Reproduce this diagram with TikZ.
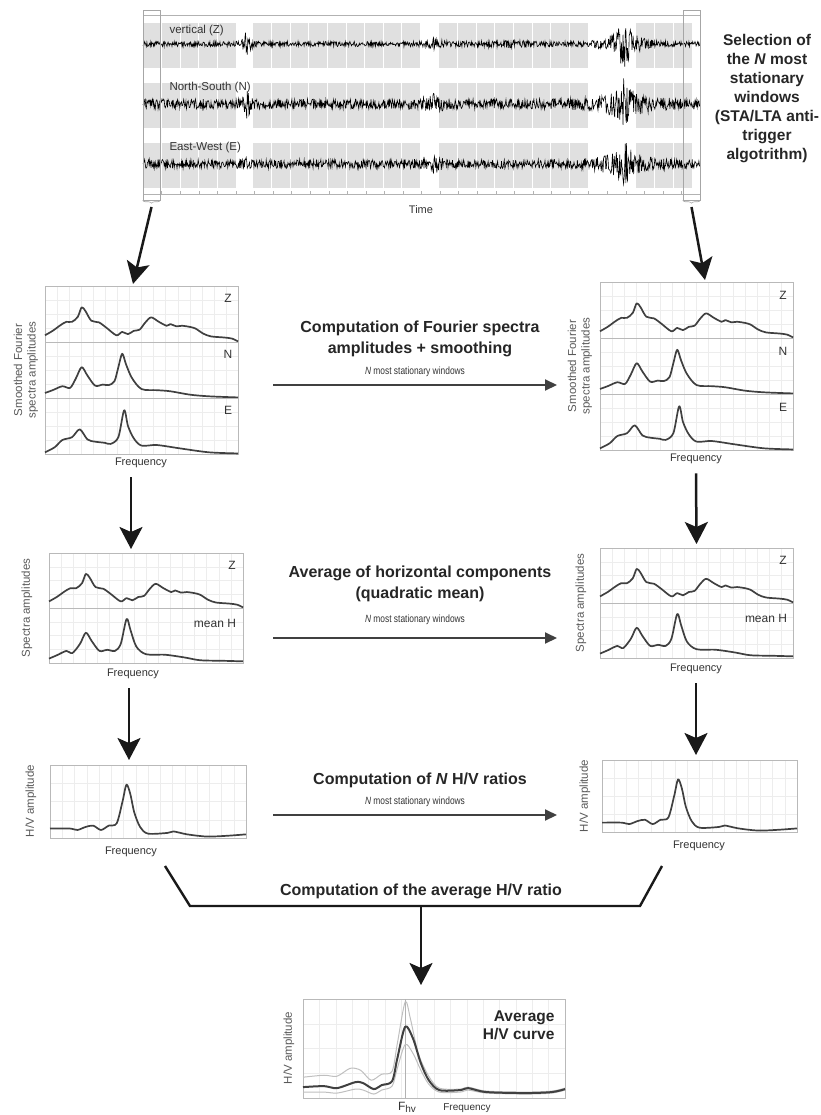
\documentclass[tikz,border=0pt]{standalone}
\usepackage{fontspec}
\setmainfont{Liberation Sans}
\newfontfamily\narrowfont[FakeStretch=0.8]{Liberation Sans}
\usetikzlibrary{arrows.meta,decorations.pathreplacing}

\tikzset{
  head/.style={font=\fontsize{16}{21}\selectfont\bfseries, align=center, text=black!85},
  note/.style={font=\narrowfont\fontsize{10.5}{12}\selectfont, text=black!80},
  lab/.style={font=\fontsize{11}{13}\selectfont, text=black!80},
  seislab/.style={font=\fontsize{11.5}{13}\selectfont, text=black!80},
  comp/.style={font=\fontsize{12}{14}\selectfont, text=black!80},
  axlab/.style={font=\fontsize{11.5}{13.5}\selectfont, rotate=90, align=center, text=black!65},
  panel/.style={draw=gray!60, line width=0.8pt, inner sep=0pt, outer sep=0pt},
  seisbox/.style={draw=gray!60, line width=0.6pt, inner sep=0pt},
  winbox/.style={draw=gray!70, line width=0.6pt, inner sep=0pt},
  winfill/.style={fill=gray!24},
  winsep/.style={white, line width=0.7pt},
  trace/.style={black, line width=0.6pt},
  brace/.style={gray!70, line width=0.6pt, decorate, decoration={brace, mirror, amplitude=3pt}},
  gridline/.style={gray!14, line width=0.3pt},
  rowline/.style={gray!55, line width=0.6pt},
  curve/.style={black!75, line width=1.7pt, line join=round},
  bigarrow/.style={-{Stealth[length=22pt, width=23pt, inset=5pt]}, line width=2.5pt, black!90},
  flowarrow/.style={-{Triangle[length=12pt, width=11pt]}, line width=2pt, black!75},
  link/.style={line width=2.4pt, black!90, line join=miter},
}

% one row of a spectrum panel: x, y of lower left corner, width, height, curve
\newcommand{\specrow}[5]{%
  \begin{scope}[shift={(#1,#2)}, xscale=#3, yscale=-#4]
    \foreach \g in {0.0625,0.125,...,0.95} \draw[gridline] (\g,0) -- (\g,1);
    \foreach \g in {0.25,0.5,0.75} \draw[gridline] (0,\g) -- (1,\g);
    \draw[rowline] (0,0) rectangle (1,1);
    #5
  \end{scope}}

\def\curveZ{\draw[curve] plot[smooth] coordinates {(0,0.12) (0.04,0.2) (0.08,0.3) (0.11,0.36) (0.14,0.36) (0.17,0.45) (0.19,0.62) (0.21,0.55) (0.24,0.38) (0.28,0.35) (0.32,0.25) (0.37,0.12) (0.4,0.18) (0.43,0.14) (0.46,0.2) (0.49,0.22) (0.52,0.35) (0.55,0.44) (0.59,0.36) (0.63,0.29) (0.65,0.32) (0.68,0.28) (0.71,0.29) (0.75,0.27) (0.78,0.24) (0.82,0.15) (0.86,0.1) (0.93,0.08) (0.97,0.06) (1,0.01)};}
\def\curveN{\draw[curve] plot[smooth] coordinates {(0,0.09) (0.04,0.14) (0.09,0.21) (0.13,0.18) (0.16,0.35) (0.19,0.55) (0.22,0.4) (0.26,0.22) (0.3,0.24) (0.33,0.23) (0.36,0.3) (0.38,0.55) (0.4,0.79) (0.42,0.6) (0.45,0.36) (0.5,0.16) (0.58,0.14) (0.65,0.12) (0.75,0.06) (0.85,0.03) (1,0.01)};}
\def\curveE{\draw[curve] plot[smooth] coordinates {(0,0.03) (0.05,0.12) (0.09,0.25) (0.14,0.3) (0.18,0.44) (0.22,0.26) (0.26,0.22) (0.31,0.2) (0.34,0.18) (0.38,0.3) (0.41,0.78) (0.43,0.5) (0.46,0.28) (0.5,0.15) (0.58,0.16) (0.7,0.1) (0.85,0.03) (1,0.01)};}
\def\curveH{\draw[curve] plot[smooth] coordinates {(0,0.08) (0.04,0.14) (0.09,0.22) (0.12,0.18) (0.16,0.35) (0.19,0.55) (0.22,0.4) (0.26,0.22) (0.3,0.24) (0.34,0.22) (0.37,0.35) (0.4,0.8) (0.42,0.6) (0.45,0.3) (0.5,0.16) (0.6,0.15) (0.7,0.1) (0.78,0.05) (0.9,0.04) (1,0.03)};}
\def\curveHV{\draw[curve] plot[smooth] coordinates {(0,0.13) (0.1,0.13) (0.14,0.11) (0.18,0.15) (0.22,0.17) (0.26,0.11) (0.3,0.17) (0.34,0.2) (0.37,0.5) (0.39,0.73) (0.41,0.6) (0.43,0.35) (0.46,0.15) (0.5,0.06) (0.6,0.07) (0.63,0.09) (0.7,0.05) (0.8,0.02) (0.9,0.03) (1,0.05)};}
\def\curveAvg{%
  \draw[gray!60, line width=0.8pt] (0.39,0) -- (0.39,1);
  \draw[gray!50, line width=1pt] plot[smooth] coordinates {(0,0.21) (0.08,0.23) (0.13,0.22) (0.18,0.3) (0.22,0.28) (0.26,0.18) (0.3,0.24) (0.34,0.27) (0.36,0.55) (0.39,0.97) (0.41,0.8) (0.44,0.45) (0.48,0.22) (0.52,0.1) (0.6,0.09) (0.63,0.11) (0.7,0.07) (0.85,0.06) (0.95,0.07) (1,0.1)};
  \draw[gray!50, line width=1pt] plot[smooth] coordinates {(0,0.06) (0.08,0.06) (0.13,0.05) (0.2,0.09) (0.23,0.08) (0.27,0.04) (0.3,0.08) (0.34,0.12) (0.36,0.3) (0.39,0.54) (0.42,0.45) (0.45,0.28) (0.48,0.14) (0.52,0.06) (0.6,0.06) (0.63,0.08) (0.7,0.05) (0.85,0.04) (0.95,0.05) (1,0.08)};
  \draw[curve, line width=2pt] plot[smooth] coordinates {(0,0.11) (0.08,0.12) (0.13,0.1) (0.2,0.16) (0.23,0.15) (0.27,0.09) (0.3,0.13) (0.34,0.17) (0.36,0.4) (0.39,0.72) (0.42,0.6) (0.45,0.35) (0.48,0.18) (0.52,0.08) (0.6,0.08) (0.63,0.1) (0.7,0.06) (0.85,0.05) (0.95,0.06) (1,0.09)};}

\begin{document}
\begin{tikzpicture}[x=1pt, y=-1pt,
  declare function={ev(\xx,\cc,\ww)=exp(-min(abs(\xx-\cc)/\ww,9));
    envZ(\xx)=2.6+17*ev(\xx,247,2.5)+4*ev(\xx,434,7)+2*ev(\xx,510,20)+24*ev(\xx,624,10);
    envN(\xx)=5+14*ev(\xx,247,2.5)+6*ev(\xx,434,7)+14*ev(\xx,624,18)+10*ev(\xx,624,2);
    envE(\xx)=4.5+8*ev(\xx,247,3)+6*ev(\xx,434,7)+16*ev(\xx,624,15)+12*ev(\xx,624,2);}]
\useasboundingbox (0,0) rectangle (820,1115);

% recording with the selected windows
\node[seisbox, minimum width=557pt, minimum height=179pt] (seis) at (421.5,104.5) {};
\foreach \yy in {23,83,143}{
  \foreach \a/\b in {143/236,253/420,439/588,636/692}
    \fill[winfill] (\a,\yy) rectangle (\b,\yy+45);
  \foreach \a/\n in {143/4,253/8,439/7,636/2}
    \foreach \k in {1,...,\n}
      \draw[winsep] (\a+\k*18.6,\yy) -- ++(0,45);
}
\foreach \t in {0,...,29} \draw[gray!60] (143+\t*18.57,194) -- ++(0,-3);
\pgfmathsetseed{12}
\draw[trace] plot[domain=143:700, samples=1000] (\x,{44+envZ(\x)*rand});
\draw[trace] plot[domain=143:700, samples=1000] (\x,{104+envN(\x)*rand});
\draw[trace] plot[domain=143:700, samples=1000] (\x,{164+envE(\x)*rand});
\node[seislab, anchor=west] (labZ) at (166,31) {vertical (Z)};
\node[seislab, anchor=west] (labN) at (166,88) {North-South (N)};
\node[seislab, anchor=west] (labE) at (166,148) {East-West (E)};
\node[lab] (time) at (421,210) {Time};
\node[winbox, minimum width=17pt, minimum height=190pt] (winL) at (151.5,105) {};
\node[winbox, minimum width=17pt, minimum height=190pt] (winR) at (691.5,105) {};
\draw[brace] (winL.south west) -- (winL.south east);
\draw[brace] (winR.south west) -- (winR.south east);
\coordinate (bL) at (151.5,207);
\coordinate (bR) at (691.5,207);
\node[head, font=\fontsize{15.5}{19}\selectfont\bfseries] (sel) at (767,99)
  {Selection of\\the \textit{N} most\\stationary\\windows\\(STA/LTA anti-\\trigger\\algotrithm)};

% Fourier spectra
\node[panel, minimum width=193pt, minimum height=168pt] (fsL) at (141.5,370) {};
\specrow{45}{342}{193}{56}{\curveZ}
\specrow{45}{398}{193}{56}{\curveN}
\specrow{45}{454}{193}{56}{\curveE}
\node[comp] (zL1) at (228,298) {Z};
\node[comp] (nL1) at (228,354) {N};
\node[comp] (eL1) at (228,410) {E};
\node[lab] (fqL1) at (141,463) {Frequency};
\node[axlab] (ylL1) at (26,370) {Smoothed Fourier\\spectra amplitudes};

\node[panel, minimum width=193pt, minimum height=168pt] (fsR) at (696.5,366) {};
\specrow{600}{338}{193}{56}{\curveZ}
\specrow{600}{394}{193}{56}{\curveN}
\specrow{600}{450}{193}{56}{\curveE}
\node[comp] (zR1) at (783,295) {Z};
\node[comp] (nR1) at (783,351) {N};
\node[comp] (eR1) at (783,407) {E};
\node[lab] (fqR1) at (696,459) {Frequency};
\node[axlab] (ylR1) at (580,366) {Smoothed Fourier\\spectra amplitudes};

\draw[bigarrow] (bL) -- ([xshift=-8.5pt,yshift=2pt]fsL.north);
\draw[bigarrow] (bR) -- ([xshift=8.5pt,yshift=2pt]fsR.north);

\node[head] (cmp1) at (420,339) {Computation of Fourier spectra\\amplitudes + smoothing};
\node[note] (nw1) at (415,372) {\textit{N} most stationary windows};
\coordinate (a1s) at (273,385);
\coordinate (a1e) at (557,385);
\draw[flowarrow] (a1s) -- (a1e);

% horizontal components averaged
\node[panel, minimum width=194pt, minimum height=110pt] (avL) at (146,608) {};
\specrow{49}{608}{194}{55}{\curveZ}
\specrow{49}{663}{194}{55}{\curveH}
\node[comp] (zL2) at (232,565) {Z};
\node[comp] (hL2) at (215,623) {mean H};
\node[lab] (fqL2) at (133,674) {Frequency};
\node[axlab] (ylL2) at (27,608) {Spectra amplitudes};

\node[panel, minimum width=193pt, minimum height=110pt] (avR) at (696.5,603) {};
\specrow{600}{603}{193}{55}{\curveZ}
\specrow{600}{658}{193}{55}{\curveH}
\node[comp] (zR2) at (783,560) {Z};
\node[comp] (hR2) at (766,618) {mean H};
\node[lab] (fqR2) at (696,669) {Frequency};
\node[axlab] (ylR2) at (581,603) {Spectra amplitudes};

\draw[bigarrow] ([xshift=-10pt,yshift=-6pt]fqL1.south) -- ([xshift=-15pt,yshift=4pt]avL.north);
\draw[bigarrow] ([yshift=-6pt]fqR1.south) -- ([yshift=4pt]avR.north);

\node[head] (cmp2) at (420,584) {Average of horizontal components\\(quadratic mean)};
\node[note] (nw2) at (415,620) {\textit{N} most stationary windows};
\coordinate (a2s) at (273,638);
\coordinate (a2e) at (557,638);
\draw[flowarrow] (a2s) -- (a2e);

% H/V ratios
\node[panel, minimum width=196pt, minimum height=73pt] (hvL) at (148,801.5) {};
\specrow{50}{838}{196}{73}{\curveHV}
\node[lab] (fqL3) at (131,852) {Frequency};
\node[axlab] (ylL3) at (31,801) {H/V amplitude};

\node[panel, minimum width=195pt, minimum height=72pt] (hvR) at (699.5,796) {};
\specrow{602}{832}{195}{72}{\curveHV}
\node[lab] (fqR3) at (699,846) {Frequency};
\node[axlab] (ylR3) at (585,796) {H/V amplitude};

\draw[bigarrow] ([xshift=-4pt,yshift=-6pt]fqL2.south) -- ([xshift=-19pt,yshift=5pt]hvL.north);
\draw[bigarrow] ([yshift=-6pt]fqR2.south) -- ([xshift=-3.5pt,yshift=5pt]hvR.north);

\node[head] (cmp3) at (420,780) {Computation of \textit{N} H/V ratios};
\node[note] (nw3) at (415,802) {\textit{N} most stationary windows};
\coordinate (a3s) at (273,815);
\coordinate (a3e) at (557,815);
\draw[flowarrow] (a3s) -- (a3e);

% average of all ratios
\coordinate (j1) at (165,866);
\coordinate (j2) at (190,906);
\coordinate (j3) at (640,906);
\coordinate (j4) at (662,866);
\coordinate (jm) at (421,906);
\draw[link] (j1) -- (j2) -- (j3) -- (j4);
\node[head] (cmp4) at (421,891) {Computation of the average H/V ratio};

\node[panel, minimum width=262pt, minimum height=99pt] (avg) at (434,1048.5) {};
\specrow{303}{1098}{262}{99}{\curveAvg}
\node[head, font=\fontsize{15.5}{18}\selectfont\bfseries, align=right, anchor=north east] (avgtxt) at (558,1007) {Average\\H/V curve};
\node[lab, font=\fontsize{12}{14}\selectfont] (fhv) at (407,1107) {F\raisebox{-2pt}{\fontsize{10}{10}\selectfont hv}};
\node[lab, font=\fontsize{10}{12}\selectfont] (fqA) at (467,1108) {Frequency};
\node[axlab] (ylA) at (289,1048) {H/V amplitude};
\draw[bigarrow] (jm) -- ([xshift=-13pt,yshift=14pt]avg.north);
\end{tikzpicture}
\end{document}
